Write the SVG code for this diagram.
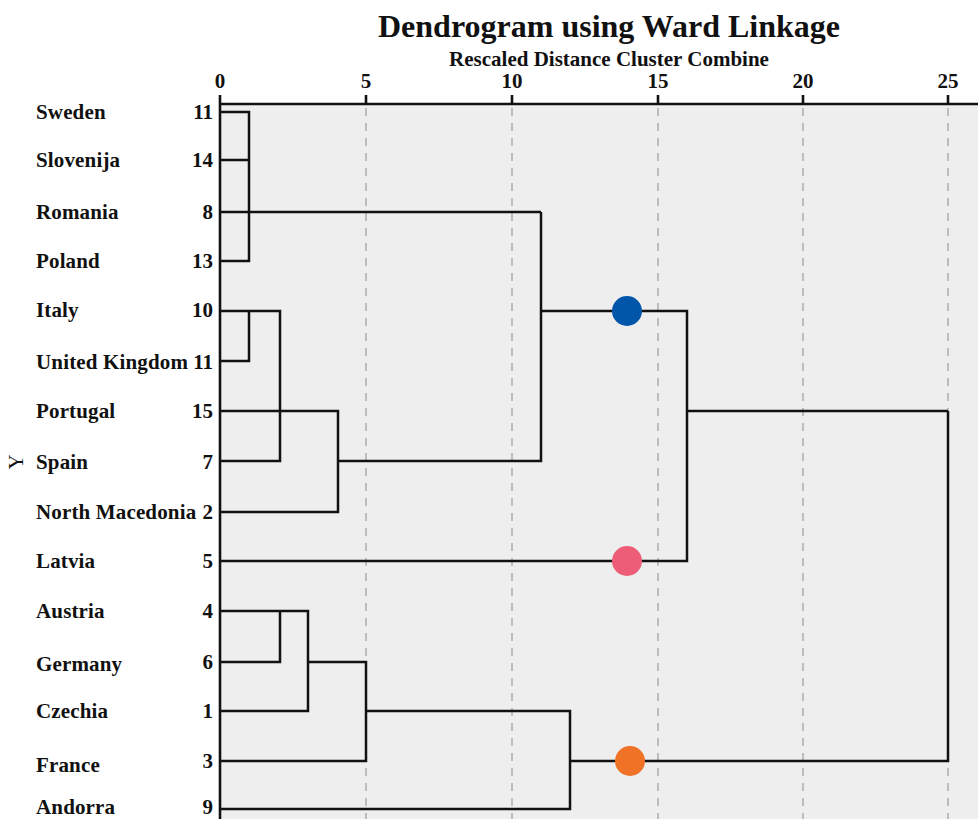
<svg xmlns="http://www.w3.org/2000/svg" width="978" height="819" viewBox="0 0 978 819">
  <style>
    .t { font-family: "Liberation Serif", "Times New Roman", serif; font-weight: bold; fill: #111; }
    .title { font-size: 32px; text-anchor: middle; }
    .sub { font-size: 21px; text-anchor: middle; }
    .tick { font-size: 21px; text-anchor: middle; }
    .name { font-size: 21px; letter-spacing: 0.15px; }
    .num { font-size: 21px; text-anchor: end; }
    .grid { stroke: #bdbdbd; stroke-width: 2; stroke-dasharray: 8 7; }
    .axis { stroke: #111; stroke-width: 2.6; fill: none; }
    .link { stroke: #111; stroke-width: 2.5; fill: none; stroke-linejoin: miter; }
  </style>

  <rect x="0" y="0" width="978" height="819" fill="#ffffff"/>
  <!-- plotting area -->
  <rect x="220" y="104" width="760" height="717" fill="#efeeef"/>

  <!-- title -->
  <text class="t title" x="609" y="37">Dendrogram using Ward Linkage</text>
  <text class="t sub" x="609" y="66">Rescaled Distance Cluster Combine</text>

  <!-- axis ticks and grid -->
  <g id="axis">
    <line class="grid" x1="366" y1="108" x2="366" y2="819"/>
    <line class="grid" x1="512" y1="108" x2="512" y2="819"/>
    <line class="grid" x1="658" y1="108" x2="658" y2="819"/>
    <line class="grid" x1="803" y1="108" x2="803" y2="819"/>
    <line class="grid" x1="948" y1="108" x2="948" y2="819"/>
    <path class="axis" d="M220,95 V819 M220,104 H978 M366,95 V104 M512,95 V104 M658,95 V104 M803,95 V104 M948,95 V104"/>
    <text class="t tick" x="220" y="88">0</text>
    <text class="t tick" x="366" y="88">5</text>
    <text class="t tick" x="512" y="88">10</text>
    <text class="t tick" x="658" y="88">15</text>
    <text class="t tick" x="803" y="88">20</text>
    <text class="t tick" x="948" y="88">25</text>
  </g>

  <text x="18" y="462" transform="rotate(-90 18 462)" font-family="Liberation Serif, serif" font-size="21" fill="#111" text-anchor="middle" dominant-baseline="middle">Y</text>

  <!-- leaf labels -->
  <g id="leaf-sweden"><text class="t name" x="36" y="119">Sweden</text><text class="t num" x="213" y="119">11</text></g>
  <g id="leaf-slovenija"><text class="t name" x="36" y="167">Slovenija</text><text class="t num" x="213" y="167">14</text></g>
  <g id="leaf-romania"><text class="t name" x="36" y="219">Romania</text><text class="t num" x="213" y="219">8</text></g>
  <g id="leaf-poland"><text class="t name" x="36" y="268">Poland</text><text class="t num" x="213" y="268">13</text></g>
  <g id="leaf-italy"><text class="t name" x="36" y="317">Italy</text><text class="t num" x="213" y="317">10</text></g>
  <g id="leaf-uk"><text class="t name" x="36" y="369">United Kingdom</text><text class="t num" x="213" y="369">11</text></g>
  <g id="leaf-portugal"><text class="t name" x="36" y="418">Portugal</text><text class="t num" x="213" y="418">15</text></g>
  <g id="leaf-spain"><text class="t name" x="36" y="469">Spain</text><text class="t num" x="213" y="469">7</text></g>
  <g id="leaf-north-macedonia"><text class="t name" x="36" y="519">North Macedonia</text><text class="t num" x="213" y="519">2</text></g>
  <g id="leaf-latvia"><text class="t name" x="36" y="568">Latvia</text><text class="t num" x="213" y="568">5</text></g>
  <g id="leaf-austria"><text class="t name" x="36" y="618">Austria</text><text class="t num" x="213" y="618">4</text></g>
  <g id="leaf-germany"><text class="t name" x="36" y="671">Germany</text><text class="t num" x="213" y="669">6</text></g>
  <g id="leaf-czechia"><text class="t name" x="36" y="718">Czechia</text><text class="t num" x="213" y="718">1</text></g>
  <g id="leaf-france"><text class="t name" x="36" y="772">France</text><text class="t num" x="213" y="768">3</text></g>
  <g id="leaf-andorra"><text class="t name" x="36" y="814">Andorra</text><text class="t num" x="213" y="814">9</text></g>

  <!-- merge links -->
  <g id="connectors">
    <path class="link" d="M220,112 H249 V261 H220 M220,160 H249 M220,212 H541"/>
    <path class="link" d="M220,311 H249 V361 H220 M249,311 H280 V461 H220 M220,411 H338 V512 H220 M338,461 H541 V212 M541,311 H687 V561 H220 M687,411 H948"/>
    <path class="link" d="M220,611 H280 V662 H220 M280,611 H308 V711 H220 M308,662 H366 V761 H220 M366,711 H570 V809 H220 M570,761 H948 V411"/>
  </g>

  <!-- cluster markers -->
  <g id="cluster-markers">
    <circle id="cluster-1" cx="627" cy="311" r="15" fill="#0256A9"/>
    <circle id="cluster-2" cx="627" cy="561" r="15" fill="#EE5D78"/>
    <circle id="cluster-3" cx="630" cy="761" r="15" fill="#F07226"/>
  </g>
</svg>
